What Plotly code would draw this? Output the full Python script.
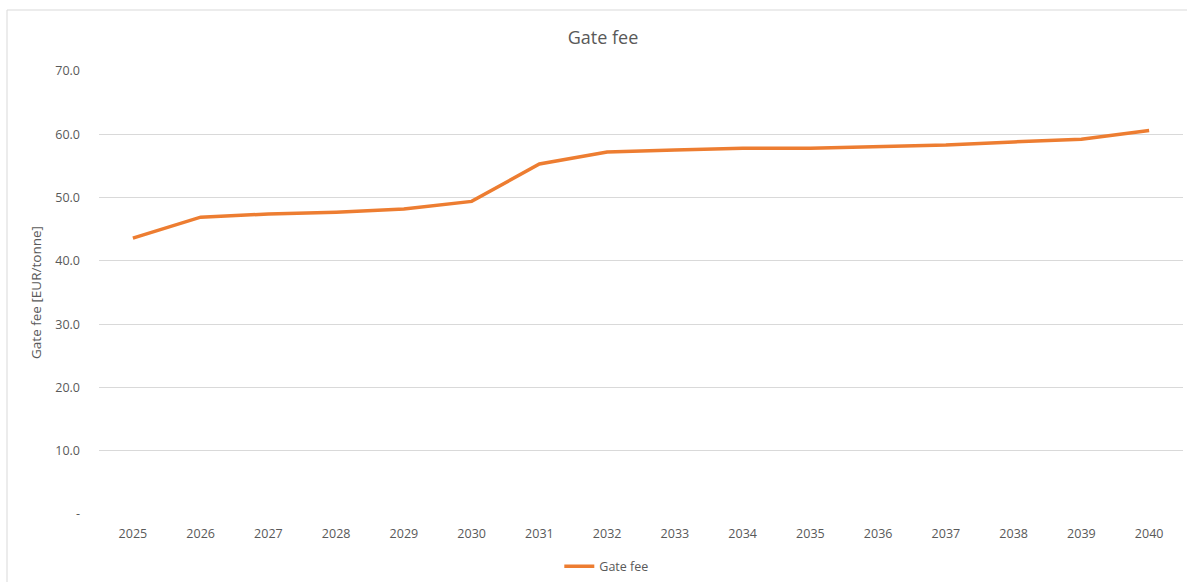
import plotly.graph_objects as go

years = ["2025", "2026", "2027", "2028", "2029", "2030", "2031", "2032",
         "2033", "2034", "2035", "2036", "2037", "2038", "2039", "2040"]
gate_fee = [43.6, 46.9, 47.4, 47.7, 48.2, 49.4, 55.3, 57.2,
            57.5, 57.8, 57.8, 58.0, 58.3, 58.8, 59.2, 60.6]
y_ticks = [0, 10, 20, 30, 40, 50, 60, 70]
y_tick_labels = ["-", "10.0", "20.0", "30.0", "40.0", "50.0", "60.0", "70.0"]

font_family = "Open Sans, Liberation Sans, sans-serif"
txt = "#595959"

fig = go.Figure()
fig.add_trace(go.Scatter(
    x=years, y=gate_fee, mode="lines", name="Gate fee",
    line=dict(color="#ED7D31", width=3.5),
))

fig.update_layout(
    width=1187, height=582,
    margin=dict(l=99, r=4, t=71, b=68, autoexpand=False),
    paper_bgcolor="white", plot_bgcolor="white",
    font=dict(family=font_family, color=txt, size=12),
    title=dict(text="Gate fee", x=0.508, xanchor="center", y=1 - 38 / 582,
               yanchor="middle", font=dict(size=18, color=txt, family=font_family)),
    showlegend=True,
    legend=dict(orientation="h", x=0.468, xanchor="center", y=-0.085, yanchor="top",
                font=dict(size=12.5, color=txt), itemwidth=30),
    xaxis=dict(
        type="category", range=[-0.5, 15.5], showgrid=False, showline=False,
        ticks="", tickfont=dict(size=12.5, color=txt), zeroline=False,
        ticklabelstandoff=10, automargin=False,
    ),
    yaxis=dict(
        range=[0, 70], tickvals=y_ticks, ticktext=y_tick_labels,
        showgrid=True, gridcolor="#D9D9D9", gridwidth=1, zeroline=False,
        showline=False, ticks="", ticklabelstandoff=18, automargin=False,
        tickfont=dict(size=12.5, color=txt),
        title=dict(text="Gate fee [EUR/tonne]", font=dict(size=13.5, color=txt), standoff=10),
    ),
)

fig.add_shape(type="rect", xref="paper", yref="paper",
              x0=-92 / 1084, x1=1.05, y0=-1.2, y1=1 + 61 / 443,
              line=dict(color="#D9D9D9", width=1), fillcolor="rgba(0,0,0,0)", layer="below")

fig.write_html("out.html")
